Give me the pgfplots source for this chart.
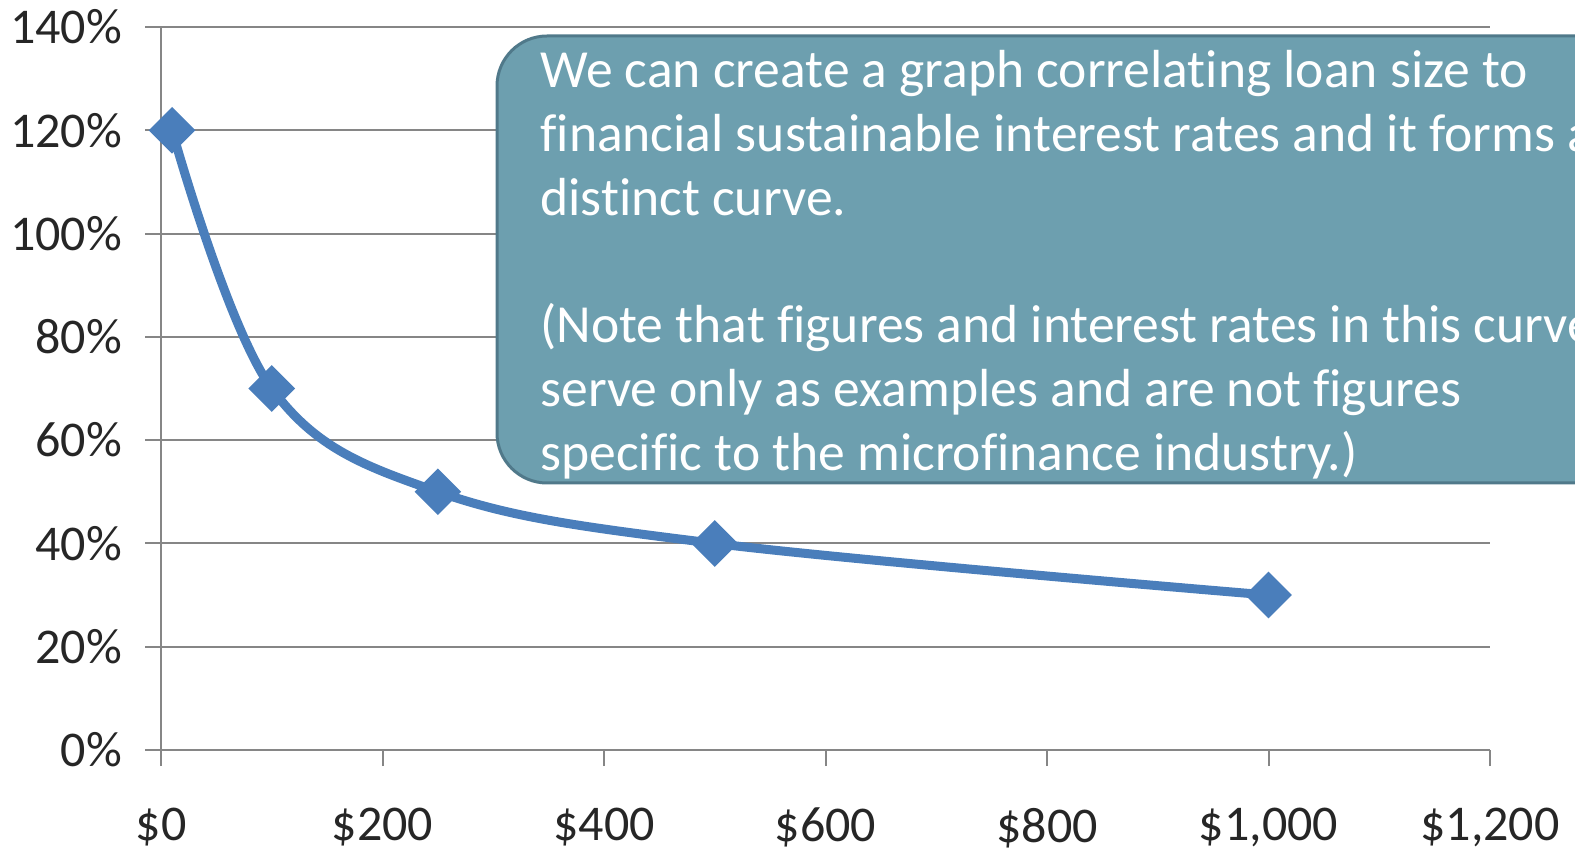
\documentclass[border=0pt]{standalone}
\usepackage{fontspec}
\setmainfont{Carlito}[Ligatures={NoCommon,NoContextual}]
\usepackage{pgfplots}
\pgfplotsset{compat=1.18}
\definecolor{lineblue}{HTML}{4A7EBB}
\definecolor{gridgray}{HTML}{868686}
\definecolor{boxfill}{HTML}{6D9FAF}
\definecolor{boxdraw}{HTML}{50798A}
\begin{document}
\begin{tikzpicture}
\useasboundingbox (0,0) rectangle (787.5pt,426pt);
\clip (0,0) rectangle (787.5pt,426pt);
\begin{axis}[
  at={(80.5pt,51pt)}, anchor=south west,
  scale only axis, width=664.5pt, height=361.5pt,
  xmin=0, xmax=1200, ymin=0, ymax=140,
  axis lines*=left,
  axis line style={gridgray, line width=1pt},
  tick align=outside,
  major tick length=8pt,
  tick style={gridgray, line width=1pt},
  ymajorgrids, grid style={gridgray, line width=1pt},
  xtick={0,200,...,1200}, ytick={0,20,...,140},
  xticklabels={\$0,\$200,\$400,\$600,\$800,{\$1,000},{\$1,200}},
  yticklabels={0\%,20\%,40\%,60\%,80\%,100\%,120\%,140\%},
  tick label style={font=\fontsize{25}{30}\selectfont, text=black!85},
  yticklabel style={anchor=east, xshift=-8pt},
  xticklabel style={anchor=north, yshift=-17.5pt},
  clip=false,
]
\addplot[lineblue, line width=4.5pt, smooth, tension=0.6,
  mark=square*, mark size=6pt, mark options={rotate=45, solid, fill=lineblue, draw=none}]
  coordinates {(10,120) (100,70) (250,50) (500,40) (1000,30)};
\end{axis}
\draw[boxdraw, line width=1.5pt, fill=boxfill, rounded corners=25pt] (248.5pt,184.5pt) rectangle (830pt,408pt);
\begin{scope}[every node/.style={anchor=base west, inner sep=0pt, text=white, font=\fontsize{26.8}{32}\selectfont}]
\node at (270pt,382pt) {We can create a graph correlating loan size to};
\node at (270pt,350.1pt) {financial sustainable interest rates and it forms a};
\node at (270pt,318.3pt) {distinct curve.};
\node at (270pt,254.6pt) {(Note that figures and interest rates in this curve};
\node at (270pt,222.7pt) {serve only as examples and are not figures};
\node at (270pt,190.9pt) {specific to the microfinance industry.)};
\end{scope}
\end{tikzpicture}
\end{document}
